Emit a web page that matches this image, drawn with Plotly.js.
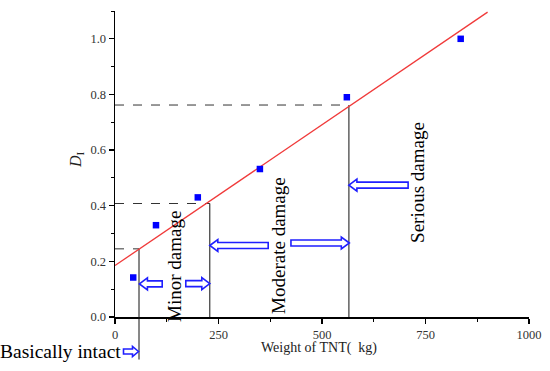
<!DOCTYPE html>
<html>
<head>
<meta charset="utf-8">
<script src="https://cdn.plot.ly/plotly-3.0.1.min.js"></script>
<style>html,body{margin:0;padding:0;background:#fff;}#chart{width:550px;height:371px;}</style>
</head>
<body>
<div id="chart"></div>
<script>
// ---- data ----
const massTNT = [44, 99, 200, 350, 560, 835];            // kg
const damageIndex = [0.142, 0.33, 0.43, 0.532, 0.79, 1.0];
const fitX = [0, 900];
const fitY = [0.185, 1.096];
const thresholdMass = [58, 229, 565];
const thresholdD = [0.245, 0.408, 0.762];
const gradeLabels = ['Basically intact', 'Minor damage', 'Moderate damage', 'Serious damage'];
const yTickVals = [0, 0.2, 0.4, 0.6, 0.8, 1.0];
const xTickVals = [0, 250, 500, 750, 1000];

// ---- layout geometry ----
const W = 550, H = 371;
const M = {l: 115, r: 21, t: 11, b: 54};
const plotW = W - M.l - M.r, plotH = H - M.t - M.b;
const xRange = [0, 1000], yRange = [0, 1.1];
const ux = (xRange[1] - xRange[0]) / plotW;   // data units per px
const uy = (yRange[1] - yRange[0]) / plotH;
const FONT = 'Liberation Serif, Times New Roman, serif';
const ARROW = '#1f1fff';

function arrowPath(tip, tail, yc, sx, sy, head, hh, sh) {
  const d = Math.sign(tip - tail);
  const hx = tip - d * head * sx;
  const p = [[tip, yc], [hx, yc + hh * sy], [hx, yc + sh * sy], [tail, yc + sh * sy],
             [tail, yc - sh * sy], [hx, yc - sh * sy], [hx, yc - hh * sy]];
  return 'M' + p.map(q => q[0] + ',' + q[1]).join('L') + 'Z';
}

// arrows inside plot: [tip, tail, yCenter] in data units
const arrowSpecs = [
  [59, 114, 0.119],
  [229, 171, 0.120],
  [229, 370, 0.257],
  [566, 425, 0.266],
  [565, 708, 0.474]
];

const shapes = [];
thresholdMass.forEach((m, i) => {
  shapes.push({type: 'line', xref: 'x', yref: 'y', x0: 0, x1: m, y0: thresholdD[i], y1: thresholdD[i],
    line: {color: '#333', width: 1, dash: 'dash'}, layer: 'below'});
  shapes.push({type: 'line', xref: 'x', yref: 'y', x0: m, x1: m, y0: 0, y1: thresholdD[i],
    line: {color: '#111', width: 1}, layer: 'below'});
});
shapes.push({type: 'line', xref: 'paper', yref: 'paper', x0: thresholdMass[0] / xRange[1], x1: thresholdMass[0] / xRange[1],
  y0: -0.139, y1: 0, line: {color: '#111', width: 1}});

arrowSpecs.forEach(a => {
  shapes.push({type: 'path', xref: 'x', yref: 'y',
    path: arrowPath(a[0], a[1], a[2], ux, uy, 8, 6, 3),
    line: {color: ARROW, width: 1.6}, fillcolor: 'white'});
});
shapes.push({type: 'path', xref: 'paper', yref: 'paper',
  path: arrowPath((138.5 - M.l) / plotW, (123.5 - M.l) / plotW, -(351.5 - (M.t + plotH)) / plotH, 1 / plotW, 1 / plotH, 6, 5, 2.5),
  line: {color: ARROW, width: 1.6}, fillcolor: 'white'});

const annotations = [
  {text: gradeLabels[0], xref: 'paper', yref: 'paper', x: (122.5 - M.l) / plotW, y: -(351 - (M.t + plotH)) / plotH,
   xanchor: 'right', yanchor: 'middle', showarrow: false, font: {family: FONT, size: 19.5, color: '#000'}},
  {text: gradeLabels[1], xref: 'x', yref: 'y', x: 145, y: 0.18, textangle: -90,
   xanchor: 'center', yanchor: 'middle', showarrow: false, font: {family: FONT, size: 19, color: '#000'}},
  {text: gradeLabels[2], xref: 'x', yref: 'y', x: 396, y: 0.259, textangle: -90,
   xanchor: 'center', yanchor: 'middle', showarrow: false, font: {family: FONT, size: 19, color: '#000'}},
  {text: gradeLabels[3], xref: 'x', yref: 'y', x: 729, y: 0.485, textangle: -90,
   xanchor: 'center', yanchor: 'middle', showarrow: false, font: {family: FONT, size: 19, color: '#000'}},
  {text: '<i>D</i><sub>I</sub>', xref: 'paper', yref: 'paper', x: (76 - M.l) / plotW, y: (M.t + plotH - 160) / plotH,
   textangle: -90, xanchor: 'center', yanchor: 'middle', showarrow: false, font: {family: FONT, size: 16, color: '#222'}},
  {text: 'Weight of TNT(&nbsp;&nbsp;kg)', xref: 'paper', yref: 'paper', x: (318.5 - M.l) / plotW, y: -(348 - (M.t + plotH)) / plotH,
   xanchor: 'center', yanchor: 'middle', showarrow: false, font: {family: FONT, size: 14, color: '#222'}}
];

const traces = [
  {x: fitX, y: fitY, mode: 'lines', line: {color: '#f03a3a', width: 1.3}, hoverinfo: 'skip'},
  {x: massTNT, y: damageIndex, mode: 'markers', marker: {symbol: 'square', size: 6.5, color: '#0000ff'}}
];

const axisCommon = {
  showgrid: false, zeroline: false, showline: true, linecolor: '#000', linewidth: 1.5,
  ticks: 'outside', ticklen: 5, tickwidth: 1.3, tickcolor: '#000',
  tickfont: {family: FONT, size: 12.5, color: '#333'}, mirror: false, fixedrange: true
};

const layout = {
  width: W, height: H, margin: M, showlegend: false,
  paper_bgcolor: '#fff', plot_bgcolor: '#fff',
  xaxis: Object.assign({}, axisCommon, {range: xRange, tickvals: xTickVals,
    minor: {dtick: 125, tick0: 0, ticks: 'outside', ticklen: 3, tickcolor: '#000', tickwidth: 1}}),
  yaxis: Object.assign({}, axisCommon, {range: yRange, tickvals: yTickVals, tickformat: '.1f',
    minor: {dtick: 0.1, tick0: 0, ticks: 'outside', ticklen: 3, tickcolor: '#000', tickwidth: 1}}),
  shapes: shapes, annotations: annotations
};

Plotly.newPlot('chart', traces, layout, {displayModeBar: false, staticPlot: true});
</script>
</body>
</html>
